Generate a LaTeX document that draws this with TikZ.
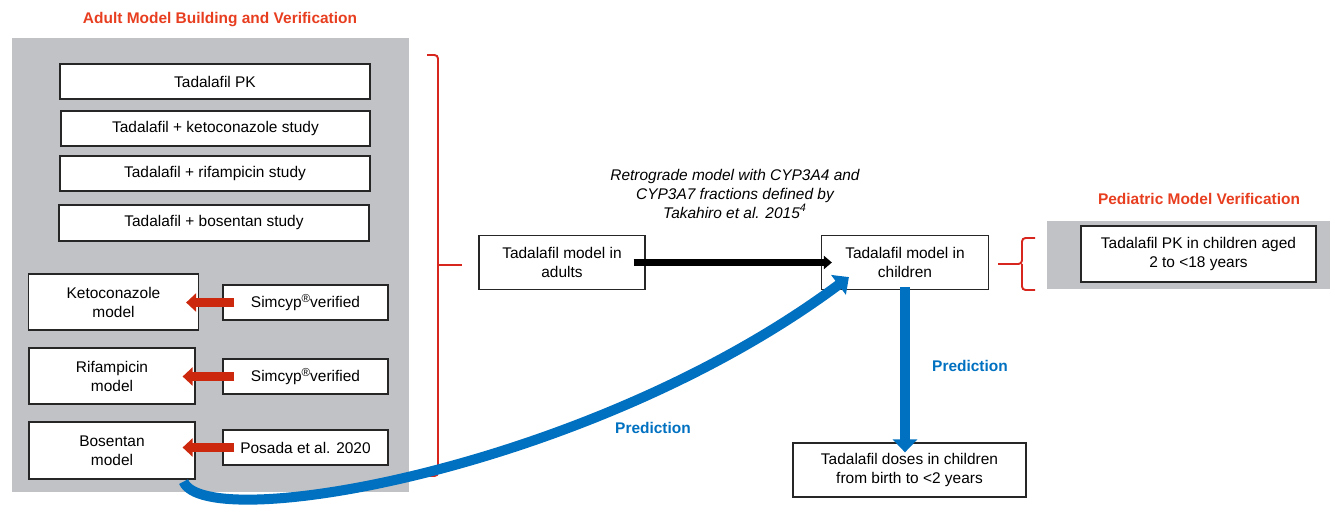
\documentclass[tikz,border=0pt]{standalone}
\usepackage{fontspec}
\setmainfont{Liberation Sans}
\usepackage{xcolor}
\usetikzlibrary{arrows.meta}
\usetikzlibrary{calc}

\definecolor{panelgray}{RGB}{192,194,197}
\definecolor{titlered}{RGB}{232,62,32}
\definecolor{brackred}{RGB}{214,38,30}
\definecolor{arrowred}{RGB}{204,40,14}
\definecolor{predblue}{RGB}{0,112,192}
\newcommand{\regmark}{\raisebox{0.6ex}{\fontsize{6.6}{7}\selectfont\textregistered}}

\begin{document}
\begin{tikzpicture}[x=0.02cm, y=-0.02cm,
	box/.style={draw=black!85, fill=white, line width=0.7pt, align=center, inner sep=0pt, font=\fontsize{8.8}{10.8}\selectfont},
	title/.style={text=titlered, font=\fontsize{8.8}{10.8}\selectfont\bfseries},
	pred/.style={text=predblue, font=\fontsize{8.8}{10.8}\selectfont\bfseries},
	redarrow/.style={arrowred, line width=0.17cm, -{Triangle[length=0.2cm, width=0.36cm]}, shorten <=-0.24cm, shorten >=-0.26cm},
	blackarrow/.style={black, line width=0.14cm, -{Triangle[length=0.16cm, width=0.26cm]}, shorten <=-0.24cm, shorten >=-0.22cm},
	bluearrow/.style={predblue, line width=0.2cm, -{Triangle[length=0.26cm, width=0.48cm]}},
	bracket/.style={brackred, line width=1.1pt, rounded corners=2pt}]
	\useasboundingbox (0,0) rectangle (1330,506);

	%panel adultos
	\fill[panelgray] (12,38) rectangle (409,492);
	\node[title] (adulttitle) at (220,20) {Adult Model Building and Verification};
	\node[box, minimum width=6.2cm, minimum height=0.7cm] (pk) at (215,81.5) {Tadalafil PK};
	\node[box, minimum width=6.18cm, minimum height=0.7cm] (ketostudy) at (215.5,128.5) {Tadalafil + ketoconazole study};
	\node[box, minimum width=6.2cm, minimum height=0.7cm] (rifstudy) at (215,173.5) {Tadalafil + rifampicin study};
	\node[box, minimum width=6.2cm, minimum height=0.72cm] (bosstudy) at (214,223) {Tadalafil + bosentan study};

	\node[box, minimum width=3.4cm, minimum height=1.12cm] (ketom) at (113.5,302) {Ketoconazole\\model};
	\node[box, minimum width=3.32cm, minimum height=1.12cm] (rifm) at (112,376) {Rifampicin\\model};
	\node[box, minimum width=3.32cm, minimum height=1.14cm] (bosm) at (112,450.5) {Bosentan\\model};
	\node[box, minimum width=3.3cm, minimum height=0.7cm] (simk) at (305.5,302.5) {Simcyp\regmark verified};
	\node[box, minimum width=3.3cm, minimum height=0.7cm] (simr) at (305.5,376.5) {Simcyp\regmark verified};
	\node[box, minimum width=3.3cm, minimum height=0.7cm] (posada) at (305.5,447.5) {Posada et al. 2020};

	\draw[redarrow] (simk.west) -- (simk.west -| ketom.east);
	\draw[redarrow] (simr.west) -- (simr.west -| rifm.east);
	\draw[redarrow] (posada.west) -- (posada.west -| bosm.east);

	%llave grande
	\draw[bracket] (427,55) -- (438,55) -- (438,476) -- (428,476);
	\draw[bracket] (438,265) -- (462,265);

	%modelo adultos -> ninos
	\node[box, minimum width=3.32cm, minimum height=1.08cm] (adult) at (562,262.5) {Tadalafil model in\\adults};
	\node[box, minimum width=3.34cm, minimum height=1.08cm] (child) at (905,262.5) {Tadalafil model in\\children};
	\node[align=center, font=\fontsize{8.8}{10.8}\selectfont\itshape] (retro) at (735,194) {Retrograde model with CYP3A4 and\\CYP3A7 fractions defined by\\Takahiro et al. 2015\textsuperscript{4}};
	\draw[blackarrow] (adult.east) -- (child.west);

	\node[box, minimum width=4.66cm, minimum height=1.08cm] (doses) at (909.5,470) {Tadalafil doses in children\\from birth to <2 years};

	%panel pediatrico
	\fill[panelgray] (1047,221) rectangle (1330,289);
	\node[title] (pedtitle) at (1199,199) {Pediatric Model Verification};
	\node[box, minimum width=4.7cm, minimum height=1.12cm] (pedpk) at (1198.5,254) {Tadalafil PK in children aged\\2 to <18 years};
	\draw[bracket] (1035,238) -- (1022,238) -- (1022,264) -- (998,264);
	\draw[bracket] (1022,264) -- (1022,290) -- (1035,290);

	%prediccion
	\draw[bluearrow, shorten <=-0.06cm, shorten >=-0.2cm] (child.south) -- (child.south |- doses.north);
	\draw[bluearrow] ($(bosm.south east)+(-12,2)$) .. controls (205,535) and (590,470) .. ($(child.south west)+(28,-13)$);
	\node[pred] (pred1) at (970,366) {Prediction};
	\node[pred] (pred2) at (653,428) {Prediction};
\end{tikzpicture}
\end{document}
